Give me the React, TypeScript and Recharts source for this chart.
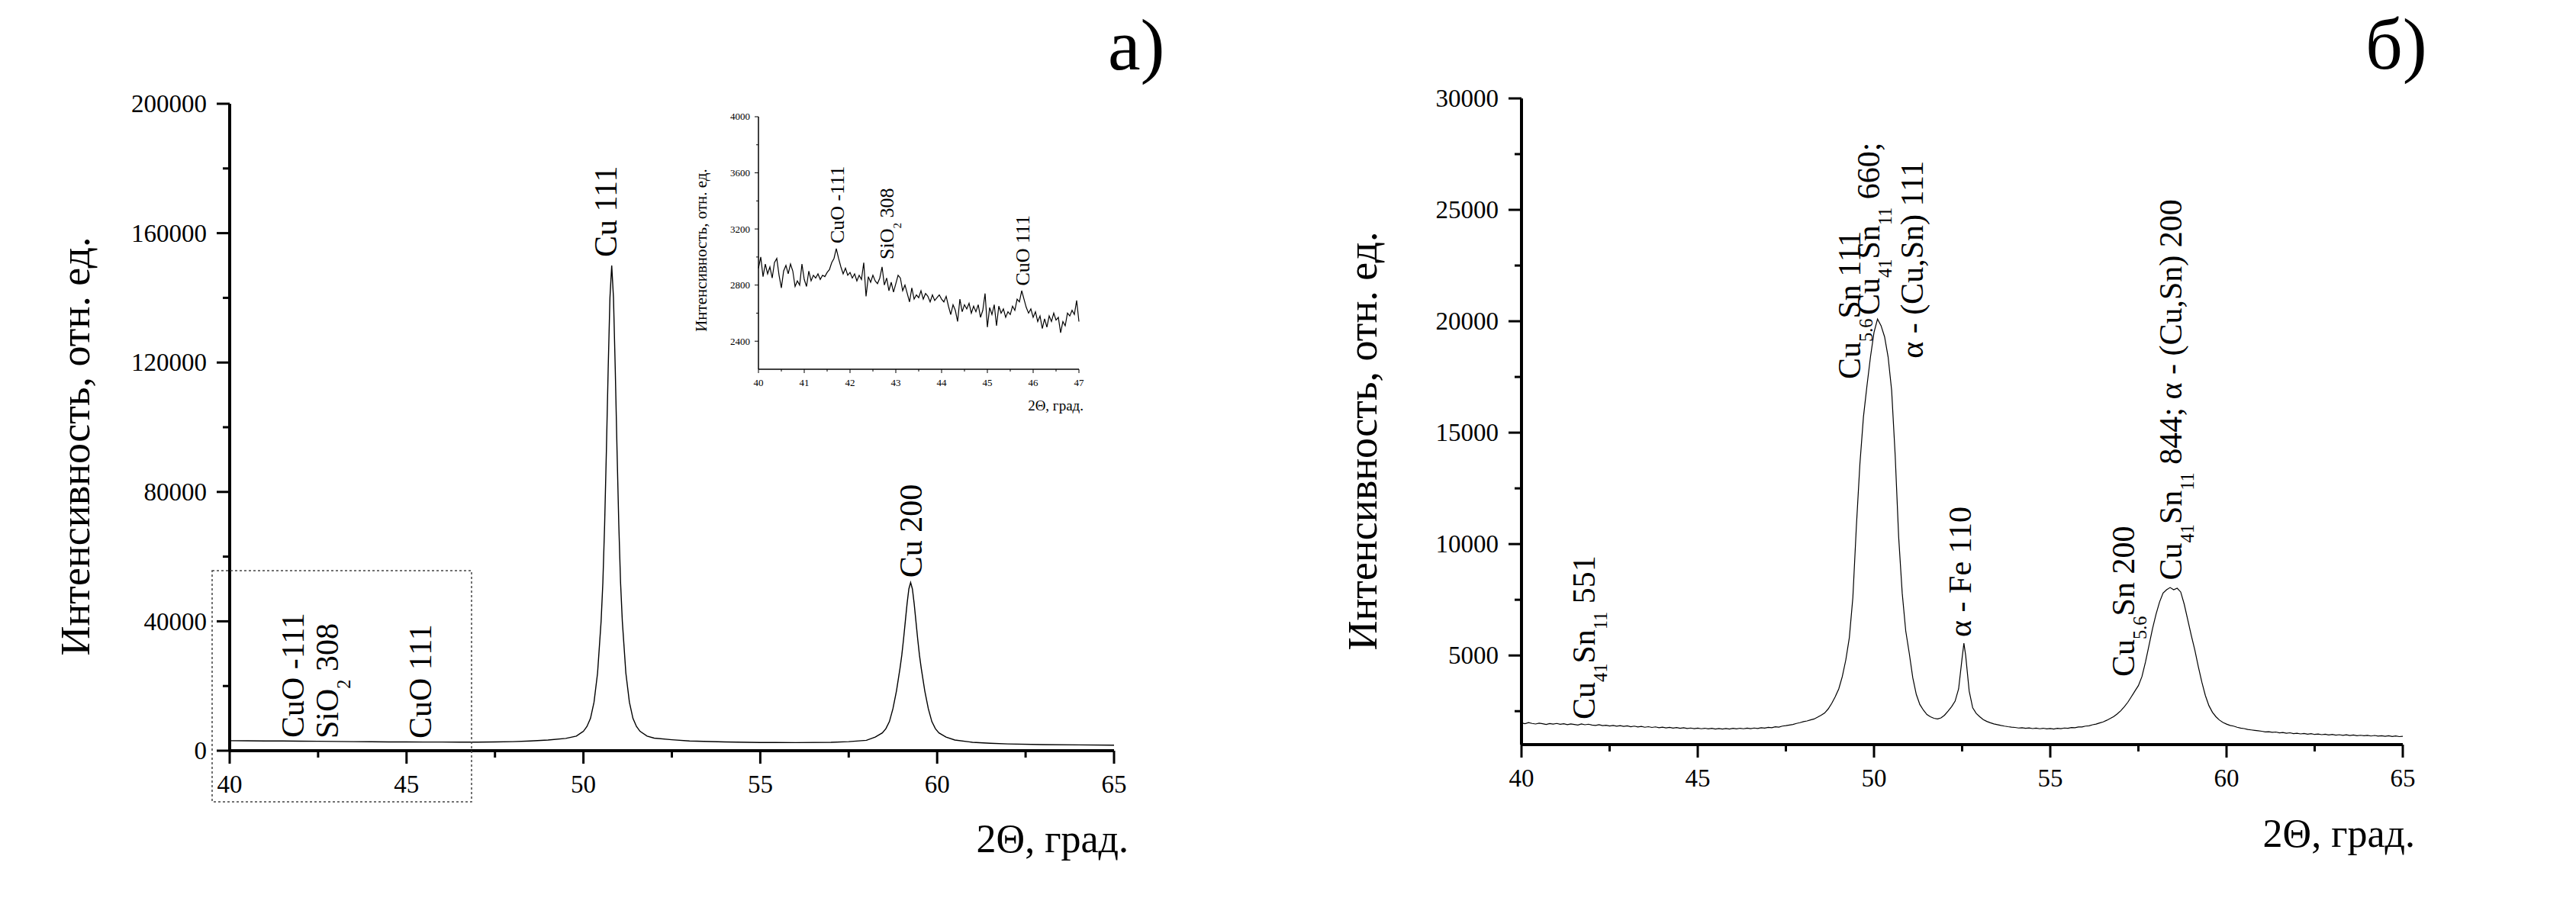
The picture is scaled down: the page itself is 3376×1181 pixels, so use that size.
import React from 'react';
import { LineChart, Line, XAxis, YAxis, ReferenceDot } from 'recharts';

const SERIF = "'Liberation Serif', 'Times New Roman', serif";

// ---- panel а): Cu film, full range ----
const aTheta = [
  40.0, 40.5, 41.0, 41.5, 42.0, 42.5, 43.0, 43.5, 44.0, 44.5, 45.0, 45.5, 46.0, 46.5, 47.0, 47.5, 48.0, 48.5, 49.0, 49.5,
  49.8, 50.0, 50.1, 50.2, 50.3, 50.4, 50.5, 50.55, 50.6, 50.65, 50.7, 50.75, 50.8, 50.85, 50.9, 50.95, 51.0, 51.05, 51.1,
  51.2, 51.3, 51.4, 51.5, 51.6, 51.8, 52.0, 52.5, 53.0, 54.0, 55.0, 56.0, 57.0, 57.5, 58.0, 58.25, 58.45, 58.55, 58.65,
  58.75, 58.85, 58.95, 59.0, 59.05, 59.1, 59.15, 59.2, 59.25, 59.3, 59.35, 59.4, 59.45, 59.5, 59.55, 59.65, 59.75, 59.85,
  59.95, 60.05, 60.25, 60.5, 61.0, 61.5, 62.0, 63.0, 64.0, 65.0,
];
const aIntensity = [
  3100, 3060, 3020, 3000, 2960, 2920, 2860, 2800, 2760, 2720, 2700, 2680, 2680, 2660, 2650, 2700, 2800, 3000, 3300, 3800,
  4500, 6000, 7500, 10000, 15000, 24000, 40000, 52000, 70000, 93000, 118000, 140000, 150000, 140000, 118000, 93000, 70000, 52000, 40000,
  24000, 15000, 10000, 7500, 6000, 4500, 3900, 3400, 3000, 2700, 2550, 2500, 2600, 2800, 3200, 4200, 5500, 6800, 9000,
  13000, 18500, 25500, 29500, 34500, 40000, 45500, 50000, 52000, 50000, 45500, 40000, 34500, 29500, 25500, 18500, 13000, 9000,
  6800, 5500, 4200, 3300, 2600, 2300, 2100, 1900, 1800, 1700,
];
const aXTicks = [40, 42.5, 45, 47.5, 50, 52.5, 55, 57.5, 60, 62.5, 65];
const aYTicks = [0, 20000, 40000, 60000, 80000, 100000, 120000, 140000, 160000, 180000, 200000];
const aPeakNames = ['Cu 111', 'Cu 200', 'CuO -111', 'SiO_{2} 308', 'CuO 111'];
const aPeakTheta = [50.94, 59.56, 42.09, 43.06, 45.69];
const aPeakIntensity = [152600, 53500, 4000, 3770, 3770];

// ---- inset: 40-47 deg zoom ----
const insetTheta = [
  40.0, 40.05, 40.1, 40.15, 40.2, 40.25, 40.3, 40.35, 40.4, 40.45, 40.5, 40.55, 40.6, 40.65, 40.7, 40.75, 40.8, 40.85, 40.9, 40.95,
  41.0, 41.05, 41.1, 41.15, 41.2, 41.25, 41.3, 41.35, 41.4, 41.45, 41.5, 41.55, 41.6, 41.65, 41.7, 41.75, 41.8, 41.85, 41.9, 41.95,
  42.0, 42.05, 42.1, 42.15, 42.2, 42.25, 42.3, 42.35, 42.4, 42.45, 42.5, 42.55, 42.6, 42.65, 42.7, 42.75, 42.8, 42.85, 42.9, 42.95,
  43.0, 43.05, 43.1, 43.15, 43.2, 43.25, 43.3, 43.35, 43.4, 43.45, 43.5, 43.55, 43.6, 43.65, 43.7, 43.75, 43.8, 43.85, 43.9, 43.95,
  44.0, 44.05, 44.1, 44.15, 44.2, 44.25, 44.3, 44.35, 44.4, 44.45, 44.5, 44.55, 44.6, 44.65, 44.7, 44.75, 44.8, 44.85, 44.9, 44.95,
  45.0, 45.05, 45.1, 45.15, 45.2, 45.25, 45.3, 45.35, 45.4, 45.45, 45.5, 45.55, 45.6, 45.65, 45.7, 45.75, 45.8, 45.85, 45.9, 45.95,
  46.0, 46.05, 46.1, 46.15, 46.2, 46.25, 46.3, 46.35, 46.4, 46.45, 46.5, 46.55, 46.6, 46.65, 46.7, 46.75, 46.8, 46.85, 46.9, 46.95,
  47.0,
];
const insetIntensity = [
  2920, 3000, 2860, 2950, 2880, 2930, 2850, 2960, 2990, 2870, 2780, 2900, 2940, 2880, 2950, 2900, 2790, 2830, 2800, 2950,
  2840, 2790, 2900, 2830, 2870, 2850, 2880, 2840, 2870, 2860, 2890, 2910, 2960, 2990, 3060, 2990, 2930, 2880, 2920, 2870,
  2890, 2850, 2880, 2830, 2870, 2840, 2960, 2720, 2860, 2820, 2870, 2830, 2810, 2850, 2930, 2800, 2850, 2760, 2820, 2750,
  2810, 2870, 2850, 2760, 2800, 2740, 2680, 2780, 2700, 2730, 2710, 2760, 2700, 2740, 2720, 2680, 2730, 2690, 2710, 2730,
  2700, 2680, 2720, 2650, 2590, 2660, 2620, 2540, 2700, 2610, 2660, 2630, 2670, 2600, 2650, 2610, 2660, 2570, 2620, 2740,
  2500, 2640, 2590, 2660, 2510, 2650, 2600, 2630, 2570, 2610, 2590, 2650, 2620, 2700, 2680, 2760, 2700, 2640, 2600, 2630,
  2570, 2610, 2540, 2580, 2490, 2560, 2500, 2580, 2540, 2600, 2550, 2570, 2460, 2540, 2510, 2600, 2580, 2620, 2590, 2690,
  2540,
];
const insetXTicks = [40, 40.5, 41, 41.5, 42, 42.5, 43, 43.5, 44, 44.5, 45, 45.5, 46, 46.5, 47];
const insetYTicks = [2400, 2600, 2800, 3000, 3200, 3400, 3600, 3800, 4000];
const insetPeakNames = ['CuO -111', 'SiO_{2} 308', 'CuO 111'];
const insetPeakTheta = [41.87, 42.95, 45.92];
const insetPeakIntensity = [3097, 2983, 2795];

// ---- panel б): Cu-Sn alloy ----
const bTheta = [
  40.0, 40.1, 40.2, 40.3, 40.4, 40.5, 40.6, 40.7, 40.8, 40.9,
  41.0, 41.1, 41.2, 41.3, 41.4, 41.5, 41.6, 41.7, 41.8, 41.9,
  42.0, 42.1, 42.2, 42.3, 42.4, 42.5, 42.6, 42.7, 42.8, 42.9,
  43.0, 43.1, 43.2, 43.3, 43.4, 43.5, 43.6, 43.7, 43.8, 43.9,
  44.0, 44.1, 44.2, 44.3, 44.4, 44.5, 44.6, 44.7, 44.8, 44.9,
  45.0, 45.1, 45.2, 45.3, 45.4, 45.5, 45.6, 45.7, 45.8, 45.9,
  46.0, 46.1, 46.2, 46.3, 46.4, 46.5, 46.6, 46.7, 46.8, 46.9,
  47.0, 47.1, 47.2, 47.3, 47.4, 47.5, 47.6, 47.7, 47.8, 47.9,
  48.0, 48.1, 48.2, 48.3, 48.4, 48.5, 48.6, 48.7, 48.8, 48.9,
  49.0, 49.1, 49.2, 49.3, 49.4, 49.5, 49.6, 49.7, 49.8, 49.9,
  50.0, 50.1, 50.2, 50.3, 50.4, 50.5, 50.6, 50.7, 50.8, 50.9,
  51.0, 51.1, 51.2, 51.3, 51.4, 51.5, 51.6, 51.7, 51.8, 51.9,
  52.0, 52.1, 52.2, 52.3, 52.4, 52.5, 52.55, 52.6, 52.7, 52.8, 52.9,
  53.0, 53.1, 53.2, 53.3, 53.4, 53.5, 53.6, 53.7, 53.8, 53.9,
  54.0, 54.1, 54.2, 54.3, 54.4, 54.5, 54.6, 54.7, 54.8, 54.9,
  55.0, 55.1, 55.2, 55.3, 55.4, 55.5, 55.6, 55.7, 55.8, 55.9,
  56.0, 56.1, 56.2, 56.3, 56.4, 56.5, 56.6, 56.7, 56.8, 56.9,
  57.0, 57.1, 57.2, 57.3, 57.4, 57.5, 57.6, 57.7, 57.8, 57.9,
  58.0, 58.1, 58.2, 58.3, 58.4, 58.5, 58.6, 58.7, 58.8, 58.9,
  59.0, 59.1, 59.2, 59.3, 59.4, 59.5, 59.6, 59.7, 59.8, 59.9,
  60.0, 60.1, 60.2, 60.3, 60.4, 60.5, 60.6, 60.7, 60.8, 60.9,
  61.0, 61.1, 61.2, 61.3, 61.4, 61.5, 61.6, 61.7, 61.8, 61.9,
  62.0, 62.1, 62.2, 62.3, 62.4, 62.5, 62.6, 62.7, 62.8, 62.9,
  63.0, 63.1, 63.2, 63.3, 63.4, 63.5, 63.6, 63.7, 63.8, 63.9,
  64.0, 64.1, 64.2, 64.3, 64.4, 64.5, 64.6, 64.7, 64.8, 64.9,
  65.0,
];
const bIntensity = [
  1970, 1940, 1985, 1950, 1925, 1960, 1935, 1905, 1945, 1920,
  1950, 1910, 1935, 1895, 1930, 1905, 1880, 1925, 1890, 1915,
  1880, 1860, 1895, 1850, 1870, 1835, 1860, 1825, 1850, 1815,
  1840, 1800, 1830, 1795, 1815, 1780, 1805, 1770, 1795, 1760,
  1785, 1750, 1775, 1740, 1765, 1730, 1755, 1725, 1745, 1715,
  1740, 1710, 1735, 1705, 1730, 1700, 1725, 1695, 1720, 1700,
  1730, 1705, 1735, 1710, 1740, 1715, 1745, 1725, 1760, 1740,
  1775, 1760, 1800, 1785, 1830, 1850, 1880, 1905, 1950, 1985,
  2030, 2060, 2110, 2150, 2230, 2320, 2420, 2600, 2850, 3150,
  3500, 4050, 4800, 5800, 7600, 10800, 13600, 15700, 17100, 18400,
  19500, 20100, 19800, 19300, 18400, 16900, 14000, 10300, 7800, 6100,
  5100, 4000, 3250, 2800, 2550, 2350, 2250, 2180, 2150, 2200,
  2320, 2500, 2700, 2950, 3500, 4900, 5550, 5000, 3400, 2650, 2400,
  2250, 2120, 2040, 1980, 1930, 1895, 1860, 1830, 1805, 1785,
  1770, 1745, 1760, 1730, 1750, 1720, 1740, 1710, 1735, 1705,
  1725, 1700, 1730, 1715, 1745, 1730, 1765, 1755, 1790, 1790,
  1830, 1845, 1890, 1920, 1970, 2020, 2090, 2170, 2260, 2380,
  2520, 2700, 2900, 3150, 3400, 3650, 4050, 4700, 5450, 6200,
  6850, 7400, 7800, 7950, 8050, 7950, 8020, 7850, 7300, 6600,
  5900, 5250, 4500, 3800, 3200, 2750, 2450, 2250, 2100, 1990,
  1920, 1860, 1830, 1780, 1740, 1720, 1680, 1660, 1640, 1620,
  1600, 1570, 1580, 1550, 1565, 1530, 1545, 1510, 1530, 1495,
  1510, 1480, 1500, 1470, 1490, 1455, 1475, 1445, 1465, 1435,
  1455, 1425, 1445, 1415, 1440, 1405, 1430, 1400, 1420, 1395,
  1415, 1385, 1410, 1380, 1400, 1375, 1395, 1365, 1390, 1360,
  1375,
];
const bXTicks = [40, 42.5, 45, 47.5, 50, 52.5, 55, 57.5, 60, 62.5, 65];
const bYTicks = [2500, 5000, 7500, 10000, 12500, 15000, 17500, 20000, 22500, 25000, 27500, 30000];
const bPeakNames = [
  'Cu_{41}Sn_{11} 551',
  'Cu_{5.6}Sn 111',
  'Cu_{41}Sn_{11} 660;',
  'α - (Cu,Sn) 111',
  'α - Fe 110',
  'Cu_{5.6}Sn 200',
  'Cu_{41}Sn_{11} 844; α - (Cu,Sn) 200',
];
const bPeakTheta = [42.08, 49.61, 50.15, 51.39, 52.75, 57.38, 58.72];
const bPeakIntensity = [2130, 17400, 20280, 18330, 5830, 4050, 8380];

type TickStyle = { major: number; minor: number; tw: number; fs: number; yLab: number; xLab: number };
const BIG: TickStyle = { major: 17, minor: 9, tw: 3, fs: 33, yLab: 30, xLab: 55 };
const SMALL: TickStyle = { major: 5, minor: 3, tw: 1, fs: 13, yLab: 11, xLab: 22 };

const isMajor = (v: number, origin: number, step: number) => {
  const k = (v - origin) / step;
  return Math.abs(k - Math.round(k)) < 1e-6;
};

const leftTick = (origin: number, step: number, st: TickStyle) => (props: any) => {
  const { x, y, payload } = props;
  const major = isMajor(payload.value, origin, step);
  return (
    <g>
      <line x1={x} y1={y} x2={x - (major ? st.major : st.minor)} y2={y} stroke="#000" strokeWidth={st.tw} />
      {major && (
        <text x={x - st.yLab} y={y + st.fs * 0.34} textAnchor="end" fontSize={st.fs} fontFamily={SERIF} fill="#000">
          {payload.value}
        </text>
      )}
    </g>
  );
};

const bottomTick = (origin: number, step: number, st: TickStyle) => (props: any) => {
  const { x, y, payload } = props;
  const major = isMajor(payload.value, origin, step);
  return (
    <g>
      <line x1={x} y1={y} x2={x} y2={y + (major ? st.major : st.minor)} stroke="#000" strokeWidth={st.tw} />
      {major && (
        <text x={x} y={y + st.xLab} textAnchor="middle" fontSize={st.fs} fontFamily={SERIF} fill="#000">
          {payload.value}
        </text>
      )}
    </g>
  );
};

// "Cu_{41}Sn" -> normal / subscript pieces
const splitSub = (s: string) => {
  const out: { t: string; sub: boolean }[] = [];
  const re = /_\{([^}]*)\}/g;
  let last = 0;
  let m: RegExpExecArray | null;
  while ((m = re.exec(s))) {
    if (m.index > last) out.push({ t: s.slice(last, m.index), sub: false });
    out.push({ t: m[1], sub: true });
    last = re.lastIndex;
  }
  if (last < s.length) out.push({ t: s.slice(last), sub: false });
  return out;
};

const peakShape = (text: string, size: number) => (props: any) => {
  const { cx, cy } = props;
  const shift = size * 0.38;
  let cur = 0;
  return (
    <text
      x={cx}
      y={cy}
      transform={`rotate(-90 ${cx} ${cy})`}
      fontSize={size}
      fontFamily={SERIF}
      fill="#000"
      style={{ whiteSpace: 'pre' }}
    >
      {splitSub(text).map((p, i) => {
        const target = p.sub ? shift : 0;
        const dy = target - cur;
        cur = target;
        return (
          <tspan key={i} dy={dy} fontSize={p.sub ? size * 0.58 : size}>
            {p.t}
          </tspan>
        );
      })}
    </text>
  );
};

const toRows = (xs: number[], ys: number[]) => xs.map((t, i) => ({ t, v: ys[i] }));

interface PanelProps {
  left: number;
  top: number;
  width: number;
  height: number;
  margin: { top: number; right: number; bottom: number; left: number };
  yWidth: number;
  xHeight: number;
  theta: number[];
  intensity: number[];
  xDomain: [number, number];
  yDomain: [number, number];
  xTicks: number[];
  yTicks: number[];
  xMajor: [number, number];
  yMajor: [number, number];
  st: TickStyle;
  axisWidth: number;
  lineWidth: number;
  names: string[];
  peakTheta: number[];
  peakIntensity: number[];
  labelSize: number;
}

const Panel: React.FC<PanelProps> = (p) => (
  <div style={{ position: 'absolute', left: p.left, top: p.top }}>
    <LineChart width={p.width} height={p.height} data={toRows(p.theta, p.intensity)} margin={p.margin}>
      <XAxis
        dataKey="t"
        type="number"
        domain={p.xDomain}
        ticks={p.xTicks}
        interval={0}
        height={p.xHeight}
        tickSize={0}
        tickMargin={0}
        tickLine={false}
        axisLine={{ stroke: '#000', strokeWidth: p.axisWidth }}
        tick={bottomTick(p.xMajor[0], p.xMajor[1], p.st)}
      />
      <YAxis
        type="number"
        domain={p.yDomain}
        ticks={p.yTicks}
        interval={0}
        width={p.yWidth}
        tickSize={0}
        tickMargin={0}
        tickLine={false}
        axisLine={{ stroke: '#000', strokeWidth: p.axisWidth }}
        tick={leftTick(p.yMajor[0], p.yMajor[1], p.st)}
      />
      <Line
        type="linear"
        dataKey="v"
        stroke="#000"
        strokeWidth={p.lineWidth}
        dot={false}
        activeDot={false}
        isAnimationActive={false}
      />
      {p.names.map((name, i) => (
        <ReferenceDot
          key={name + i}
          x={p.peakTheta[i]}
          y={p.peakIntensity[i]}
          r={0}
          shape={peakShape(name, p.labelSize)}
        />
      ))}
    </LineChart>
  </div>
);

const txt = { fontFamily: SERIF, fill: '#000' } as const;

export default function App() {
  return (
    <div style={{ position: 'absolute', left: 0, top: 0, width: 3376, height: 1181, background: '#fff', overflow: 'hidden' }}>
      <Panel
        left={0}
        top={0}
        width={1600}
        height={1181}
        margin={{ top: 136, right: 140, bottom: 137, left: 201 }}
        yWidth={100}
        xHeight={60}
        theta={aTheta}
        intensity={aIntensity}
        xDomain={[40, 65]}
        yDomain={[0, 200000]}
        xTicks={aXTicks}
        yTicks={aYTicks}
        xMajor={[40, 5]}
        yMajor={[0, 40000]}
        st={BIG}
        axisWidth={4}
        lineWidth={1.4}
        names={aPeakNames}
        peakTheta={aPeakTheta}
        peakIntensity={aPeakIntensity}
        labelSize={42}
      />
      <Panel
        left={880}
        top={100}
        width={600}
        height={480}
        margin={{ top: 53, right: 66, bottom: 66, left: 54 }}
        yWidth={60}
        xHeight={30}
        theta={insetTheta}
        intensity={insetIntensity}
        xDomain={[40, 47]}
        yDomain={[2200, 4000]}
        xTicks={insetXTicks}
        yTicks={insetYTicks}
        xMajor={[40, 1]}
        yMajor={[0, 400]}
        st={SMALL}
        axisWidth={1.5}
        lineWidth={1.2}
        names={insetPeakNames}
        peakTheta={insetPeakTheta}
        peakIntensity={insetPeakIntensity}
        labelSize={26}
      />
      <Panel
        left={1700}
        top={0}
        width={1600}
        height={1181}
        margin={{ top: 129, right: 151, bottom: 145, left: 194 }}
        yWidth={100}
        xHeight={60}
        theta={bTheta}
        intensity={bIntensity}
        xDomain={[40, 65]}
        yDomain={[1000, 30000]}
        xTicks={bXTicks}
        yTicks={bYTicks}
        xMajor={[40, 5]}
        yMajor={[0, 5000]}
        st={BIG}
        axisWidth={4}
        lineWidth={1.2}
        names={bPeakNames}
        peakTheta={bPeakTheta}
        peakIntensity={bPeakIntensity}
        labelSize={42}
      />
      <svg width={3376} height={1181} style={{ position: 'absolute', left: 0, top: 0, pointerEvents: 'none' }}>
        <text x={1452} y={91} fontSize={96} {...txt}>а)</text>
        <text x={3100} y={90} fontSize={96} {...txt}>б)</text>
        <rect x={278} y={748} width={340} height={303} fill="none" stroke="#444" strokeWidth={1.5} strokeDasharray="3 3" />
        <text x={117} y={585} transform="rotate(-90 117 585)" textAnchor="middle" fontSize={54} {...txt}>
          Интенсивность, отн. ед.
        </text>
        <text x={1479} y={1117} textAnchor="end" fontSize={52} {...txt}>2Θ, град.</text>
        <text x={1804} y={578} transform="rotate(-90 1804 578)" textAnchor="middle" fontSize={54} {...txt}>
          Интенсивность, отн. ед.
        </text>
        <text x={3165} y={1110} textAnchor="end" fontSize={52} {...txt}>2Θ, град.</text>
        <text x={926} y={328} transform="rotate(-90 926 328)" textAnchor="middle" fontSize={21} {...txt}>
          Интенсивность, отн. ед.
        </text>
        <text x={1420} y={538} textAnchor="end" fontSize={19} {...txt}>2Θ, град.</text>
      </svg>
    </div>
  );
}
